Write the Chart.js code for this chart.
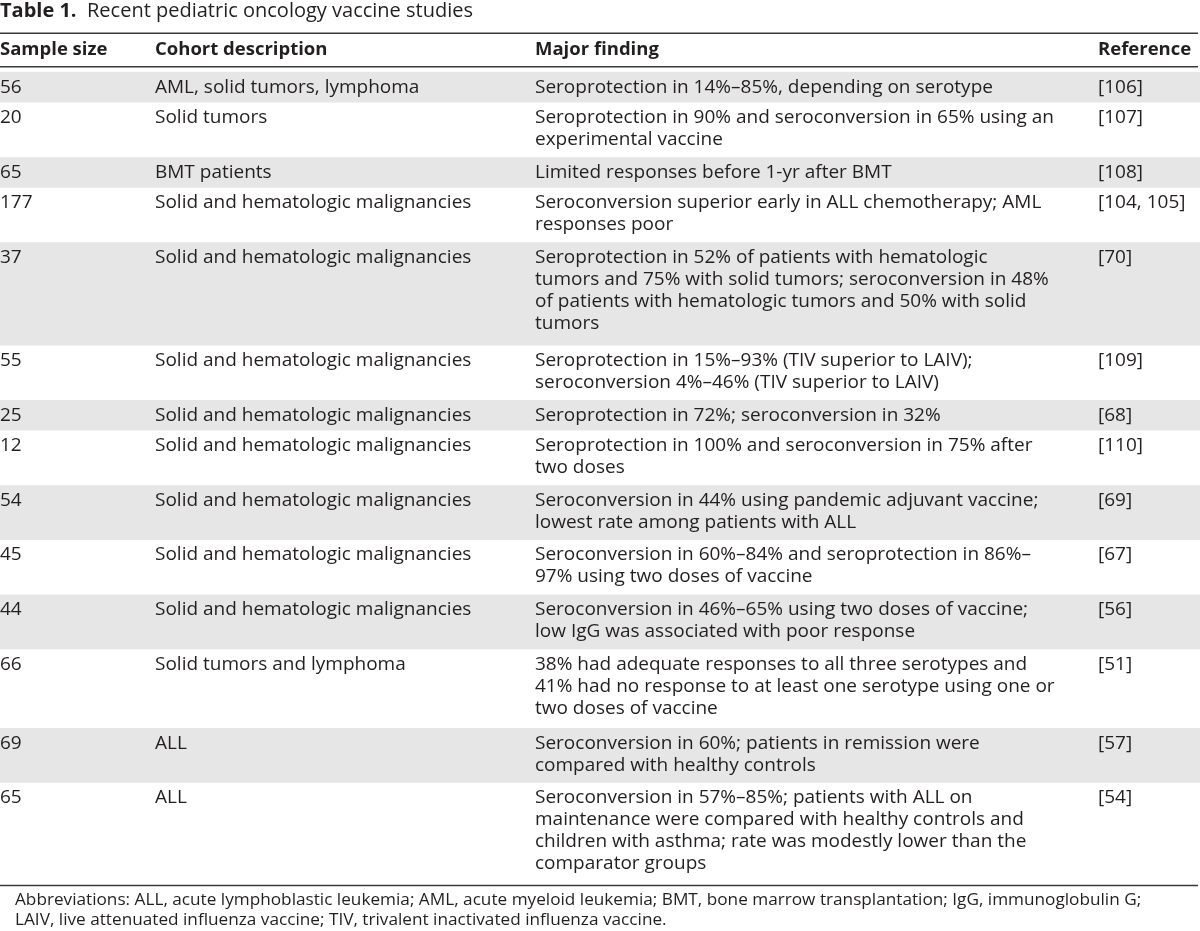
<!DOCTYPE html>
<html>
<head>
<meta charset="utf-8">
<title>Table 1. Recent pediatric oncology vaccine studies</title>
<script src="https://cdn.jsdelivr.net/npm/chart.js@4.4.1/dist/chart.umd.min.js"></script>
<style>
  html, body { margin: 0; padding: 0; background: #ffffff; }
  #wrap { position: relative; width: 1200px; height: 931px; }
</style>
</head>
<body>
<div id="wrap"><canvas id="tabla"></canvas></div>
<script>
// table content
const titleBold = 'Table 1.';
const titleText = 'Recent pediatric oncology vaccine studies';
const headers = ['Sample size', 'Cohort description', 'Major finding', 'Reference'];

const sampleSizes = ['56', '20', '65', '177', '37', '55', '25', '12', '54', '45', '44', '66', '69', '65'];

const cohorts = [
  'AML, solid tumors, lymphoma',
  'Solid tumors',
  'BMT patients',
  'Solid and hematologic malignancies',
  'Solid and hematologic malignancies',
  'Solid and hematologic malignancies',
  'Solid and hematologic malignancies',
  'Solid and hematologic malignancies',
  'Solid and hematologic malignancies',
  'Solid and hematologic malignancies',
  'Solid and hematologic malignancies',
  'Solid tumors and lymphoma',
  'ALL',
  'ALL'
];

const findings = [
  ['Seroprotection in 14%–85%, depending on serotype'],
  ['Seroprotection in 90% and seroconversion in 65% using an', 'experimental vaccine'],
  ['Limited responses before 1-yr after BMT'],
  ['Seroconversion superior early in ALL chemotherapy; AML', 'responses poor'],
  ['Seroprotection in 52% of patients with hematologic', 'tumors and 75% with solid tumors; seroconversion in 48%', 'of patients with hematologic tumors and 50% with solid', 'tumors'],
  ['Seroprotection in 15%–93% (TIV superior to LAIV);', 'seroconversion 4%–46% (TIV superior to LAIV)'],
  ['Seroprotection in 72%; seroconversion in 32%'],
  ['Seroprotection in 100% and seroconversion in 75% after', 'two doses'],
  ['Seroconversion in 44% using pandemic adjuvant vaccine;', 'lowest rate among patients with ALL'],
  ['Seroconversion in 60%–84% and seroprotection in 86%–', '97% using two doses of vaccine'],
  ['Seroconversion in 46%–65% using two doses of vaccine;', 'low IgG was associated with poor response'],
  ['38% had adequate responses to all three serotypes and', '41% had no response to at least one serotype using one or', 'two doses of vaccine'],
  ['Seroconversion in 60%; patients in remission were', 'compared with healthy controls'],
  ['Seroconversion in 57%–85%; patients with ALL on', 'maintenance were compared with healthy controls and', 'children with asthma; rate was modestly lower than the', 'comparator groups']
];

const references = ['[106]', '[107]', '[108]', '[104, 105]', '[70]', '[109]', '[68]', '[110]', '[69]', '[67]', '[56]', '[51]', '[57]', '[54]'];

const footnotes = [
  'Abbreviations: ALL, acute lymphoblastic leukemia; AML, acute myeloid leukemia; BMT, bone marrow transplantation; IgG, immunoglobulin G;',
  'LAIV, live attenuated influenza vaccine; TIV, trivalent inactivated influenza vaccine.'
];

// layout / style
const FONT = '"Open Sans", Lato, sans-serif';
const TEXT_COLOR = '#231f20';
const RULE_COLOR = '#3a3a3a';
const SHADE = '#e6e6e6';
const colX = [0, 155, 535, 1098];
const ROW_PAD = 6.3;     // alto extra de cada fila
const ROW_LINE = 24.2;   // alto por linea de texto
const LINE_GAP = 22;     // separacion entre lineas dentro de una celda
const FIRST_LINE = 15.5; // centro de la primera linea desde el borde superior de la fila

// row heights from number of text lines
var alturas = [];
for (var i = 0; i < findings.length; i++) {
  alturas.push(ROW_PAD + ROW_LINE * findings[i].length);
}
var totalAltura = alturas.reduce(function(a, b) { return a + b; }, 0);

var datasets = [];
for (var i = 0; i < alturas.length; i++) {
  datasets.push({
    label: sampleSizes[i],
    data: [alturas[i]],
    backgroundColor: (i % 2 === 0) ? SHADE : '#ffffff',
    borderWidth: 0,
    barPercentage: 1,
    categoryPercentage: 1
  });
}

const tablaPlugin = {
  id: 'tablaTexto',
  afterDatasetsDraw(chart) {
    const ctx = chart.ctx;
    const y = chart.scales.y;
    const area = chart.chartArea;
    ctx.save();
    ctx.fillStyle = TEXT_COLOR;
    ctx.textBaseline = 'middle';
    ctx.textAlign = 'left';

    // title
    ctx.font = 'bold 20px ' + FONT;
    ctx.fillText(titleBold, 0, 11);
    ctx.font = '20px ' + FONT;
    ctx.fillText(titleText, 87, 11);

    // rules
    ctx.strokeStyle = RULE_COLOR;
    ctx.lineWidth = 1.6;
    [area.top - 38.5, area.top - 5, area.bottom].forEach(function(py) {
      ctx.beginPath();
      ctx.moveTo(area.left, py);
      ctx.lineTo(area.right - 2, py);
      ctx.stroke();
    });

    // header
    ctx.font = 'bold 18.5px ' + FONT;
    for (var c = 0; c < headers.length; c++) {
      ctx.fillText(headers[c], colX[c], area.top - 22);
    }

    // body cells
    ctx.font = '19px ' + FONT;
    var inicio = 0;
    for (var r = 0; r < findings.length; r++) {
      var top = y.getPixelForValue(inicio);
      var py = top + FIRST_LINE;
      ctx.fillText(sampleSizes[r], colX[0], py);
      ctx.fillText(cohorts[r], colX[1], py);
      for (var l = 0; l < findings[r].length; l++) {
        ctx.fillText(findings[r][l], colX[2], py + l * LINE_GAP);
      }
      ctx.fillText(references[r], colX[3], py);
      inicio += alturas[r];
    }

    // footnote
    ctx.font = '17.2px ' + FONT;
    for (var f = 0; f < footnotes.length; f++) {
      ctx.fillText(footnotes[f], 15, area.bottom + 15 + f * 19.5);
    }
    ctx.restore();
  }
};

new Chart(document.getElementById('tabla'), {
  type: 'bar',
  data: {
    labels: ['tabla'],
    datasets: datasets
  },
  options: {
    responsive: true,
    maintainAspectRatio: false,
    animation: false,
    events: [],
    layout: { padding: { top: 71.7, bottom: 45.5, left: 0, right: 0 } },
    plugins: {
      legend: { display: false },
      tooltip: { enabled: false },
      title: { display: false }
    },
    scales: {
      x: { stacked: true, display: false },
      y: { stacked: true, display: false, reverse: true, min: 0, max: totalAltura }
    }
  },
  plugins: [tablaPlugin]
});
</script>
</body>
</html>
